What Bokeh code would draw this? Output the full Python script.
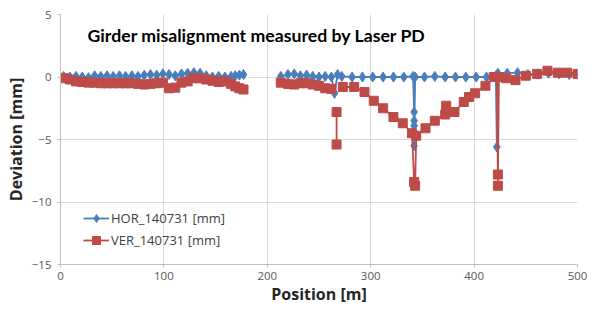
import numpy as np
from bokeh.plotting import figure
from bokeh.models import Label, Legend, LegendItem, ColumnDataSource, FixedTicker
from bokeh.embed import file_html
from bokeh.resources import INLINE

nan = float("nan")

# Horizontal deviation (HOR_140731)
hor_pos = [3, 9, 15, 21, 27, 33, 39, 45, 51, 57, 63, 69, 75, 81, 87, 93, 99, 105, 111, 117,
           123, 129, 135, 141, 147, 153, 159, 165, 169, 173, 177,
           195,
           213, 220, 226, 232, 238, 244, 250, 256, 262, 265, 268, 272, 282, 292, 302, 312,
           322, 332, 341, 342, 342, 342, 342, 343, 352, 362, 372, 382, 392, 402, 412, 421,
           422, 423, 432, 442, 452, 462, 472, 482, 492, 500]
hor_val = [0.05, 0.0, 0.05, 0.0, -0.05, 0.1, 0.05, 0.1, 0.05, 0.1, 0.05, 0.1, 0.05, 0.15, 0.2,
           0.15, 0.25, 0.2, 0.1, 0.25, 0.3, 0.35, 0.3, 0.1, 0.0, 0.05, 0.0, 0.05, 0.1, 0.15, 0.2,
           nan,
           0.05, 0.2, 0.25, 0.1, 0.15, 0.05, 0.0, 0.05, 0.0, -1.3, 0.2, 0.05, 0.0, 0.0, 0.0, 0.0,
           0.0, 0.0, 0.05, -2.8, -3.5, -3.9, -5.5, 0.0, 0.0, 0.05, 0.0, 0.0, 0.0, 0.0, 0.0, 0.1,
           -5.6, 0.3, 0.3, 0.35, 0.2, 0.25, 0.3, 0.25, 0.2, 0.2]

# Vertical deviation (VER_140731)
ver_pos = [3, 9, 15, 21, 27, 33, 39, 45, 51, 57, 63, 69, 75, 81, 87, 93, 99, 105, 111, 117,
           123, 129, 135, 141, 147, 153, 159, 165, 169, 173, 177,
           195,
           213, 220, 226, 232, 238, 244, 250, 256, 262,
           264,
           267, 267,
           270,
           273, 284, 294, 303, 312, 322, 331, 340, 342, 343, 344, 353, 362, 372, 373, 381,
           390, 395, 401, 411, 419, 422, 423, 423, 424, 431, 440, 450, 461, 471, 481, 490, 500]
ver_val = [-0.1, -0.2, -0.35, -0.4, -0.45, -0.45, -0.5, -0.5, -0.5, -0.5, -0.5, -0.5, -0.55,
           -0.6, -0.55, -0.5, -0.45, -0.9, -0.85, -0.45, -0.35, -0.1, -0.1, -0.2, -0.3, -0.4,
           -0.35, -0.55, -0.75, -0.9, -1.0,
           nan,
           -0.45, -0.55, -0.6, -0.5, -0.5, -0.6, -0.7, -0.9, -0.95,
           nan,
           -2.8, -5.4,
           nan,
           -0.8, -0.8, -1.2, -1.9, -2.5, -3.2, -3.7, -4.5, -8.4, -8.7, -4.7, -4.1, -3.5, -3.0,
           -2.3, -2.8, -2.0, -1.6, -1.3, -0.7, 0.0, 0.0, -7.8, -8.7, 0.0, -0.1, -0.25, 0.1,
           0.25, 0.5, 0.35, 0.35, 0.25]

x_ticks = [0, 100, 200, 300, 400, 500]
y_ticks = [-15, -10, -5, 0, 5]

series_names = ["HOR_140731 [mm]", "VER_140731 [mm]"]
blue = "#4a7ebb"
red = "#be4b48"

p = figure(width=587, height=307, output_backend="svg", toolbar_location=None,
           x_range=(0, 500), y_range=(-15, 5),
           min_border_left=60, min_border_right=10, min_border_top=14, min_border_bottom=41)
p.outline_line_color = None
p.background_fill_color = "white"
p.border_fill_color = "white"

grid_color = "#d9d9d9"
p.xgrid.ticker = FixedTicker(ticks=x_ticks)
p.ygrid.ticker = FixedTicker(ticks=y_ticks)
p.xgrid.grid_line_color = grid_color
p.ygrid.grid_line_color = grid_color

for ax in (p.xaxis[0], p.yaxis[0]):
    ax.axis_line_color = "#bfbfbf"
    ax.major_tick_line_color = "#bfbfbf"
    ax.major_tick_out = 3
    ax.major_tick_in = 0
    ax.minor_tick_line_color = None
    ax.major_label_text_font = "Open Sans"
    ax.major_label_text_font_size = "11.5px"
    ax.major_label_text_color = "#595959"
    ax.axis_label_text_font = "Open Sans"
    ax.axis_label_text_font_style = "bold"
    ax.axis_label_text_font_size = "16px"
    ax.axis_label_text_color = "#262626"

p.xaxis.ticker = FixedTicker(ticks=x_ticks)
p.yaxis.ticker = FixedTicker(ticks=y_ticks)
p.xaxis.axis_label = "Position [m]"
p.yaxis.axis_label = "Deviation [mm]"
p.xaxis.major_label_standoff = 4
p.yaxis.major_label_standoff = 6
p.xaxis.axis_label_standoff = 0
p.yaxis.axis_label_standoff = 2

hs = ColumnDataSource(dict(x=hor_pos, y=hor_val))
vs = ColumnDataSource(dict(x=ver_pos, y=ver_val))

hl = p.line("x", "y", source=hs, line_color=blue, line_width=1.8)
hm = p.scatter("x", "y", source=hs, marker="diamond", size=10, fill_color=blue, line_color=blue)
vl = p.line("x", "y", source=vs, line_color=red, line_width=1.8)
vm = p.scatter("x", "y", source=vs, marker="square", size=9, fill_color=red, line_color=red)

legend = Legend(items=[LegendItem(label=series_names[0], renderers=[hl, hm]),
                       LegendItem(label=series_names[1], renderers=[vl, vm])],
                location=(23, 14), margin=0, padding=5, spacing=2,
                glyph_width=26, glyph_height=20, label_standoff=2,
                label_text_font="Open Sans", label_text_font_size="13px",
                label_text_color="#404040",
                border_line_color=None, background_fill_alpha=0)
p.add_layout(legend, "center")

title = Label(x=27, y=229, x_units="screen", y_units="screen",
              text="Girder misalignment measured by Laser PD",
              text_font="Lato", text_font_style="bold", text_font_size="17.7px",
              text_color="#000000", text_baseline="middle")
p.add_layout(title)

open("out.html", "w").write(file_html(p, INLINE))
